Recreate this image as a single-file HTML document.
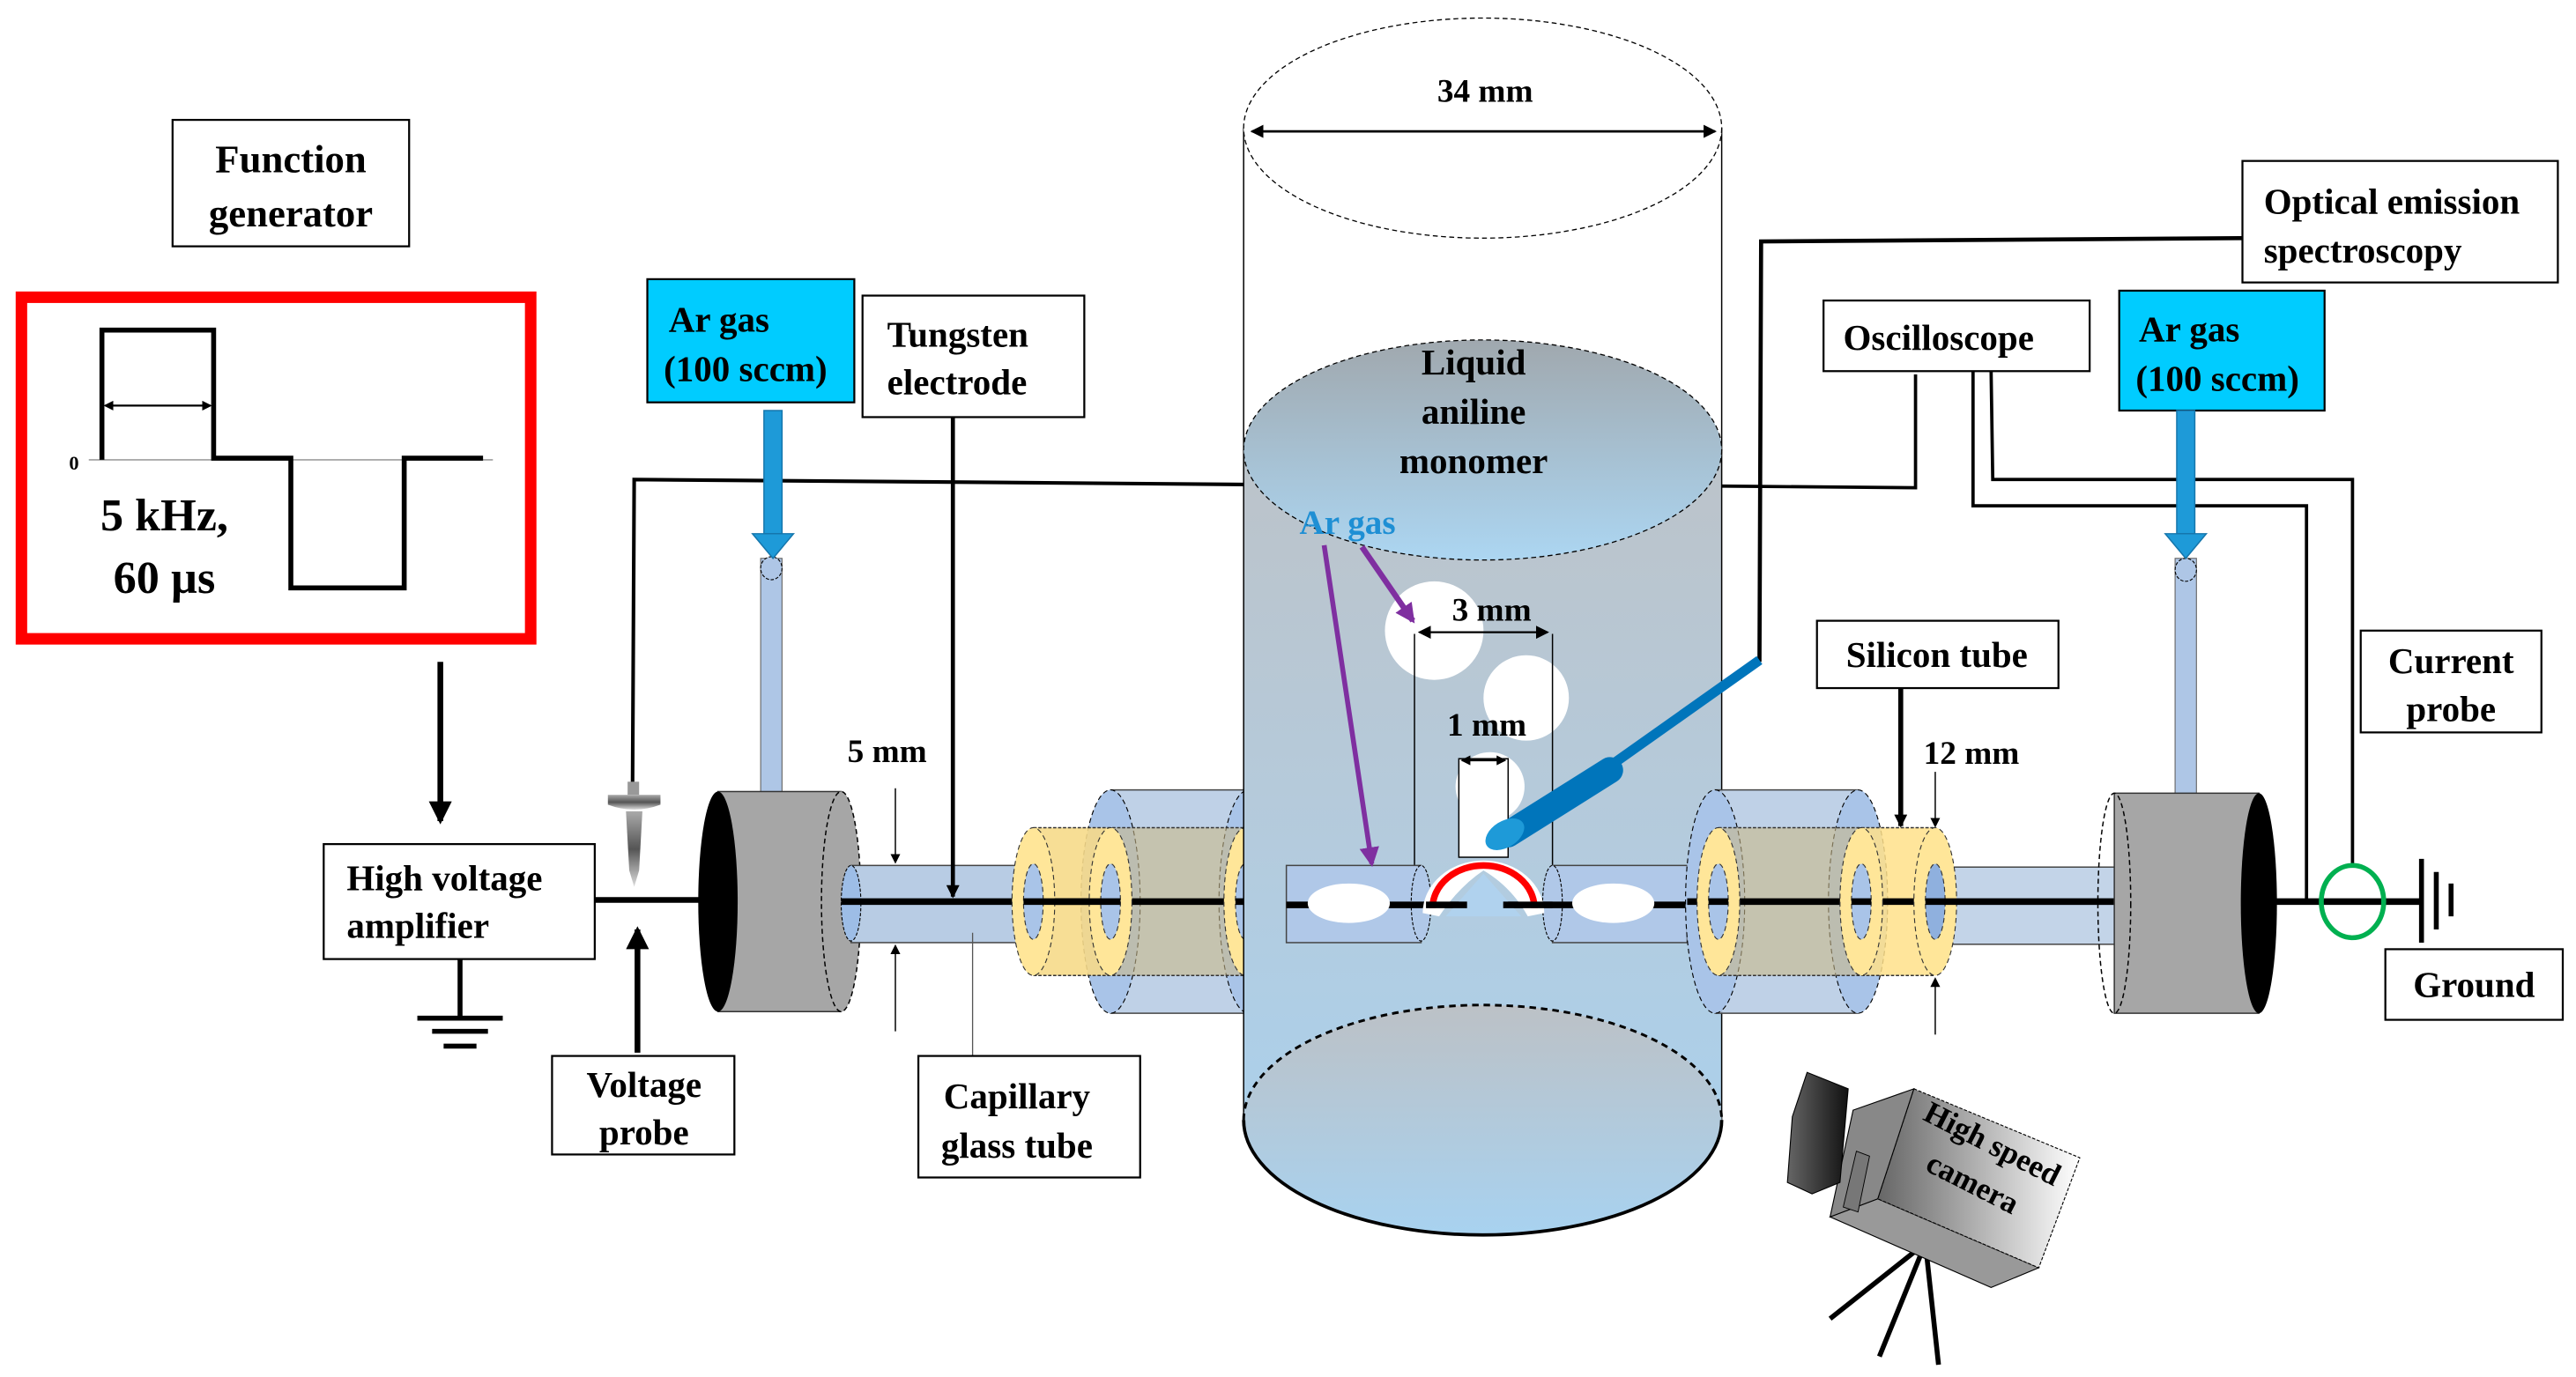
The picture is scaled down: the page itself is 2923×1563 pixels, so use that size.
<!DOCTYPE html>
<html><head><meta charset="utf-8"><style>
html,body{margin:0;padding:0;background:#fff}
svg{display:block}
text{font-family:"Liberation Serif",serif;font-weight:bold;fill:#000}
</style></head><body>
<svg width="2923" height="1563" viewBox="0 0 1568 838.5" xmlns="http://www.w3.org/2000/svg">
<defs>
<linearGradient id="liq" x1="0" y1="0" x2="0" y2="1">
<stop offset="0" stop-color="#bcc3c9"/><stop offset="0.5" stop-color="#b4cbdd"/><stop offset="1" stop-color="#a8d2f0"/></linearGradient>
<linearGradient id="top" x1="0" y1="0" x2="0" y2="1">
<stop offset="0" stop-color="#a0a8ae"/><stop offset="1" stop-color="#acd6f2"/></linearGradient>
<linearGradient id="bot" x1="0" y1="0" x2="0" y2="1">
<stop offset="0" stop-color="#bcc1c6"/><stop offset="1" stop-color="#a8d2f0"/></linearGradient>
<linearGradient id="probe" x1="0" y1="0" x2="0" y2="1">
<stop offset="0" stop-color="#aaa"/><stop offset="0.5" stop-color="#555"/><stop offset="1" stop-color="#ddd"/></linearGradient>
<linearGradient id="cam" x1="0" y1="0" x2="1" y2="0">
<stop offset="0" stop-color="#666"/><stop offset="1" stop-color="#fff"/></linearGradient>
<linearGradient id="lens" x1="0" y1="0" x2="1" y2="0">
<stop offset="0" stop-color="#666"/><stop offset="1" stop-color="#111"/></linearGradient>
<marker id="ah" markerWidth="8" markerHeight="8" refX="7" refY="4" orient="auto-start-reverse" markerUnits="userSpaceOnUse"><path d="M0,0 L8,4 L0,8 z" fill="#000"/></marker>
<marker id="ahs" markerWidth="6" markerHeight="6" refX="5" refY="3" orient="auto-start-reverse" markerUnits="userSpaceOnUse"><path d="M0,0 L6,3 L0,6 z" fill="#000"/></marker>
<marker id="ahl" markerWidth="14" markerHeight="14" refX="12" refY="7" orient="auto" markerUnits="userSpaceOnUse"><path d="M0,0 L14,7 L0,14 z" fill="#000"/></marker>
<marker id="ahp" markerWidth="12" markerHeight="12" refX="10" refY="6" orient="auto" markerUnits="userSpaceOnUse"><path d="M0,0 L12,6 L0,12 z" fill="#7f2fa0"/></marker>
</defs>

<!-- Function generator -->
<rect x="105" y="73" width="144" height="77" fill="#fff" stroke="#000" stroke-width="1.2"/>
<text x="177" y="105" font-size="24" text-anchor="middle">Function</text>
<text x="177" y="138" font-size="24" text-anchor="middle">generator</text>
<rect x="13" y="181" width="310" height="208" fill="none" stroke="#ff0000" stroke-width="7"/>
<line x1="54" y1="280" x2="300" y2="280" stroke="#aaa" stroke-width="1"/>
<polyline points="62,280 62,201 130,201 130,279 177,279 177,358 246,358 246,279 294,279" fill="none" stroke="#000" stroke-width="3"/>
<line x1="64" y1="247" x2="128" y2="247" stroke="#000" stroke-width="1.2" marker-start="url(#ahs)" marker-end="url(#ahs)"/>
<text x="42" y="286" font-size="12">0</text>
<text x="100" y="323" font-size="28" text-anchor="middle">5 kHz,</text>
<text x="100" y="361" font-size="28" text-anchor="middle">60 µs</text>
<line x1="268" y1="403" x2="268" y2="500" stroke="#000" stroke-width="3.5" marker-end="url(#ahl)"/>

<!-- HV amplifier -->
<rect x="197" y="514" width="165" height="70" fill="#fff" stroke="#000" stroke-width="1.2"/>
<text x="211" y="542" font-size="22">High voltage</text>
<text x="211" y="571" font-size="22">amplifier</text>
<line x1="280" y1="584" x2="280" y2="620" stroke="#000" stroke-width="3"/>
<line x1="254" y1="620" x2="306" y2="620" stroke="#000" stroke-width="3"/>
<line x1="263" y1="628" x2="297" y2="628" stroke="#000" stroke-width="3"/>
<line x1="270" y1="637" x2="290" y2="637" stroke="#000" stroke-width="3"/>
<line x1="362" y1="548" x2="436" y2="548" stroke="#000" stroke-width="3.5"/>

<!-- voltage probe -->
<polyline points="385,480 386,292 757,295" fill="none" stroke="#000" stroke-width="2.2"/>
<rect x="382" y="476" width="7" height="8" fill="#999"/>
<path d="M370,484 H402 V490 Q386,496 370,490 Z" fill="url(#probe)"/>
<path d="M381,494 H391 L389,530 L386,540 L383,530 Z" fill="url(#probe)"/>
<line x1="388" y1="641" x2="388" y2="566" stroke="#000" stroke-width="3.5" marker-end="url(#ahl)"/>
<rect x="336" y="643" width="111" height="60" fill="#fff" stroke="#000" stroke-width="1.2"/>
<text x="392" y="668" font-size="22" text-anchor="middle">Voltage</text>
<text x="392" y="697" font-size="22" text-anchor="middle">probe</text>

<!-- left Ar gas -->
<rect x="394" y="170" width="126" height="75" fill="#00ccff" stroke="#000" stroke-width="1.2"/>
<text x="407" y="202" font-size="22">Ar gas</text>
<text x="404" y="232" font-size="22">(100 sccm)</text>
<rect x="463" y="340" width="13" height="145" fill="#aec6e6" stroke="#666" stroke-width="0.6"/>
<ellipse cx="469.5" cy="346" rx="6.5" ry="7" fill="#aec6e6" stroke="#000" stroke-width="0.6" stroke-dasharray="2,1"/>
<rect x="465" y="250" width="11" height="75" fill="#1e9ad8" stroke="#1576ac" stroke-width="0.8"/>
<path d="M458,325 H483 L470.5,340 Z" fill="#1e9ad8" stroke="#1576ac" stroke-width="0.8"/>

<!-- Tungsten electrode -->
<rect x="525" y="180" width="135" height="74" fill="#fff" stroke="#000" stroke-width="1.2"/>
<text x="540" y="211" font-size="22">Tungsten</text>
<text x="540" y="240" font-size="22">electrode</text>

<!-- left gray cylinder -->
<rect x="437" y="482" width="75" height="134" fill="#a6a6a6" stroke="#333" stroke-width="0.8"/>
<ellipse cx="512" cy="549" rx="12" ry="67" fill="#a6a6a6" stroke="#000" stroke-width="0.8" stroke-dasharray="3,2"/>
<ellipse cx="437" cy="549" rx="12" ry="67" fill="#000"/>

<!-- left capillary -->
<rect x="518" y="527" width="111" height="47" fill="#b8cce4" stroke="#444" stroke-width="0.8"/>
<ellipse cx="518" cy="550" rx="6" ry="23" fill="#9dbde6" stroke="#000" stroke-width="0.6" stroke-dasharray="2,1"/>
<line x1="512" y1="549" x2="865" y2="549" stroke="#000" stroke-width="4"/>
<rect x="676" y="481" width="84" height="136" fill="#b8cce4" fill-opacity="0.9" stroke="#444" stroke-width="0.8"/>
<ellipse cx="676" cy="549" rx="18" ry="68" fill="#a9c4e8" stroke="#000" stroke-width="0.6" stroke-dasharray="3,2"/>
<ellipse cx="760" cy="549" rx="18" ry="68" fill="#a9c4e8" stroke="#000" stroke-width="0.6" stroke-dasharray="3,2"/>
<rect x="629" y="504" width="129" height="90" fill="#c9b98a" fill-opacity="0.6"/>
<rect x="629" y="504" width="47" height="90" fill="#ffe08a" fill-opacity="0.75"/>
<line x1="629" y1="504" x2="758" y2="504" stroke="#333" stroke-width="0.8" stroke-dasharray="2,1"/>
<line x1="629" y1="594" x2="758" y2="594" stroke="#333" stroke-width="0.8" stroke-dasharray="2,1"/>
<line x1="629" y1="549" x2="758" y2="549" stroke="#000" stroke-width="4"/>
<g stroke="#333" stroke-width="0.6" stroke-dasharray="3,2">
<ellipse cx="629" cy="549" rx="13" ry="45" fill="#ffe699"/>
<ellipse cx="629" cy="549" rx="6" ry="23" fill="#a9c4e8"/>
<ellipse cx="676" cy="549" rx="13" ry="45" fill="#ffe699"/>
<ellipse cx="676" cy="549" rx="6" ry="23" fill="#a9c4e8"/>
<ellipse cx="758" cy="549" rx="13" ry="45" fill="#ffe699"/>
<ellipse cx="758" cy="549" rx="6" ry="23" fill="#a9c4e8"/>
</g>
<line x1="623" y1="549" x2="682" y2="549" stroke="#000" stroke-width="4"/>
<line x1="752" y1="549" x2="764" y2="549" stroke="#000" stroke-width="4"/>

<!-- Main cylinder -->
<rect x="757" y="78" width="291" height="196" fill="#fff" stroke="#000" stroke-width="0.8"/>
<ellipse cx="902.5" cy="78" rx="145.5" ry="67" fill="#fff" stroke="#000" stroke-width="0.7" stroke-dasharray="3,2"/>
<path d="M757,274 V682 A145.5,70 0 0 0 1048,682 V274 Z" fill="url(#liq)" stroke="#000" stroke-width="0.8"/>
<path d="M757,682 A145.5,70 0 0 1 1048,682 A145.5,70 0 0 1 757,682 Z" fill="url(#bot)"/>
<path d="M757,682 A145.5,70 0 0 1 1048,682" fill="none" stroke="#000" stroke-width="1.6" stroke-dasharray="4,3"/>
<path d="M757,682 A145.5,70 0 0 0 1048,682" fill="none" stroke="#000" stroke-width="2"/>
<ellipse cx="902.5" cy="274" rx="145.5" ry="67" fill="url(#top)" stroke="#000" stroke-width="0.7" stroke-dasharray="3,2"/>
<line x1="762" y1="80" x2="1044" y2="80" stroke="#000" stroke-width="1.5" marker-start="url(#ah)" marker-end="url(#ah)"/>
<text x="904" y="62" font-size="20" text-anchor="middle">34 mm</text>
<text x="897" y="228" font-size="22" text-anchor="middle">Liquid</text>
<text x="897" y="258" font-size="22" text-anchor="middle">aniline</text>
<text x="897" y="288" font-size="22" text-anchor="middle">monomer</text>

<polyline points="1048,296 1166,297 1166,228" fill="none" stroke="#000" stroke-width="2"/>

<!-- bubbles -->
<circle cx="873" cy="384" r="30" fill="#fff"/>
<circle cx="929" cy="425" r="26" fill="#fff"/>
<circle cx="907" cy="479" r="21" fill="#fff"/>
<line x1="861" y1="386" x2="861" y2="527" stroke="#000" stroke-width="0.8"/>
<line x1="945" y1="386" x2="945" y2="527" stroke="#000" stroke-width="0.8"/>
<line x1="864" y1="385" x2="942" y2="385" stroke="#000" stroke-width="1.2" marker-start="url(#ah)" marker-end="url(#ah)"/>
<text x="908" y="378" font-size="20" text-anchor="middle">3 mm</text>
<rect x="888" y="462" width="30" height="60" fill="#fff" stroke="#000" stroke-width="0.8"/>
<line x1="890" y1="463" x2="916" y2="463" stroke="#000" stroke-width="1.2" marker-start="url(#ahs)" marker-end="url(#ahs)"/>
<text x="905" y="448" font-size="20" text-anchor="middle">1 mm</text>

<!-- inner glass tubes -->
<rect x="783" y="527" width="82" height="47" fill="#b0c8e8" stroke="#444" stroke-width="0.8"/>
<ellipse cx="865" cy="550" rx="6" ry="23" fill="#b0c8e8" stroke="#000" stroke-width="0.6" stroke-dasharray="2,1"/>
<rect x="945" y="527" width="82" height="47" fill="#b0c8e8" stroke="#444" stroke-width="0.8"/>
<ellipse cx="945" cy="550" rx="6" ry="23" fill="#b0c8e8" stroke="#000" stroke-width="0.6" stroke-dasharray="2,1"/>
<line x1="783" y1="551" x2="896" y2="551" stroke="#000" stroke-width="4"/>
<line x1="915" y1="551" x2="1027" y2="551" stroke="#000" stroke-width="4"/>
<ellipse cx="821" cy="550" rx="25" ry="12" fill="#fff"/>
<ellipse cx="982" cy="550" rx="25" ry="12" fill="#fff"/>
<path d="M866,556 A37,32 0 0 1 940,556 L930,558 Q920,540 903,530 Q888,540 876,558 Z" fill="#fff"/>
<path d="M872,553 A31,26 0 0 1 934,553" fill="none" stroke="#ff0000" stroke-width="4"/>
<path d="M880,558 L903,532 L926,558 Z" fill="#b0d2ee"/>
<line x1="868" y1="551" x2="893" y2="551" stroke="#000" stroke-width="4"/>
<line x1="915" y1="551" x2="945" y2="551" stroke="#000" stroke-width="4"/>

<text x="791" y="325" font-size="21" style="fill:#1e8fd4;font-weight:bold">Ar gas</text>
<line x1="806" y1="332" x2="835" y2="526" stroke="#7f2fa0" stroke-width="3" marker-end="url(#ahp)"/>
<line x1="829" y1="333" x2="860" y2="378" stroke="#7f2fa0" stroke-width="3.5" marker-end="url(#ahp)"/>

<!-- OES probe -->
<polyline points="1071,403 1072,147 1365,145" fill="none" stroke="#000" stroke-width="2.5"/>
<line x1="1071" y1="402" x2="975" y2="470" stroke="#0075bb" stroke-width="6"/>
<line x1="980" y1="469" x2="918" y2="508" stroke="#0075bb" stroke-width="16" stroke-linecap="round"/>
<ellipse cx="916" cy="508" rx="13" ry="8" transform="rotate(-32 916 508)" fill="#1e9ad8"/>
<rect x="1365" y="98" width="192" height="74" fill="#fff" stroke="#000" stroke-width="1.2"/>
<text x="1378" y="130" font-size="22">Optical emission</text>
<text x="1378" y="160" font-size="22">spectroscopy</text>

<!-- Oscilloscope -->
<rect x="1110" y="183" width="162" height="43" fill="#fff" stroke="#000" stroke-width="1.2"/>
<text x="1122" y="213" font-size="22">Oscilloscope</text>
<polyline points="1201,226 1201,308 1404,308 1404,549" fill="none" stroke="#000" stroke-width="2"/>
<polyline points="1212,226 1213,292 1432,292 1432,528" fill="none" stroke="#000" stroke-width="2"/>

<!-- right Ar gas -->
<rect x="1290" y="177" width="125" height="73" fill="#00ccff" stroke="#000" stroke-width="1.2"/>
<text x="1302" y="208" font-size="22">Ar gas</text>
<text x="1300" y="238" font-size="22">(100 sccm)</text>
<rect x="1324" y="340" width="13" height="145" fill="#aec6e6" stroke="#666" stroke-width="0.6"/>
<ellipse cx="1330.5" cy="347" rx="6.5" ry="7" fill="#aec6e6" stroke="#000" stroke-width="0.6" stroke-dasharray="2,1"/>
<rect x="1325" y="250" width="11" height="75" fill="#1e9ad8" stroke="#1576ac" stroke-width="0.8"/>
<path d="M1318,325 H1343 L1330.5,340 Z" fill="#1e9ad8" stroke="#1576ac" stroke-width="0.8"/>

<!-- right big blue cylinder -->
<rect x="1044" y="481" width="87" height="136" fill="#b8cce4" fill-opacity="0.9" stroke="#444" stroke-width="0.8"/>
<ellipse cx="1044" cy="549" rx="18" ry="68" fill="#a9c4e8" stroke="#000" stroke-width="0.6" stroke-dasharray="3,2"/>
<ellipse cx="1131" cy="549" rx="18" ry="68" fill="#a9c4e8" stroke="#000" stroke-width="0.6" stroke-dasharray="3,2"/>
<rect x="1046" y="504" width="87" height="90" fill="#c9b98a" fill-opacity="0.6"/>
<rect x="1133" y="504" width="45" height="90" fill="#ffe08a" fill-opacity="0.85"/>
<line x1="1046" y1="504" x2="1178" y2="504" stroke="#333" stroke-width="0.8" stroke-dasharray="2,1"/>
<line x1="1046" y1="594" x2="1178" y2="594" stroke="#333" stroke-width="0.8" stroke-dasharray="2,1"/>
<line x1="1027" y1="549" x2="1294" y2="549" stroke="#000" stroke-width="4"/>
<rect x="1178" y="528" width="116" height="47" fill="#b8cce4" fill-opacity="0.85" stroke="#444" stroke-width="0.8"/>
<g stroke="#333" stroke-width="0.6" stroke-dasharray="3,2">
<ellipse cx="1046" cy="549" rx="13" ry="45" fill="#ffe699"/>
<ellipse cx="1046" cy="549" rx="6" ry="23" fill="#a9c4e8"/>
<ellipse cx="1133" cy="549" rx="13" ry="45" fill="#ffe699"/>
<ellipse cx="1133" cy="549" rx="6" ry="23" fill="#a9c4e8"/>
<ellipse cx="1178" cy="549" rx="13" ry="45" fill="#ffe699"/>
<ellipse cx="1178" cy="549" rx="6" ry="23" fill="#8fb0de"/>
<ellipse cx="1293" cy="551" rx="6" ry="23" fill="#8fb0de"/>
</g>
<line x1="1040" y1="549" x2="1052" y2="549" stroke="#000" stroke-width="4"/>
<line x1="1127" y1="549" x2="1139" y2="549" stroke="#000" stroke-width="4"/>
<line x1="1172" y1="549" x2="1296" y2="549" stroke="#000" stroke-width="4"/>

<!-- right gray cylinder -->
<rect x="1287" y="483" width="88" height="134" fill="#a6a6a6" stroke="#333" stroke-width="0.8"/>
<ellipse cx="1287" cy="550" rx="10" ry="67" fill="none" stroke="#000" stroke-width="0.8" stroke-dasharray="3,2"/>
<ellipse cx="1375" cy="550" rx="11" ry="67" fill="#000"/>
<line x1="1385" y1="549" x2="1474" y2="549" stroke="#000" stroke-width="4"/>
<ellipse cx="1432" cy="549" rx="19" ry="22" fill="none" stroke="#00b050" stroke-width="3"/>
<line x1="1474" y1="523" x2="1474" y2="574" stroke="#000" stroke-width="3"/>
<line x1="1483" y1="531" x2="1483" y2="566" stroke="#000" stroke-width="3"/>
<line x1="1492" y1="538" x2="1492" y2="558" stroke="#000" stroke-width="3"/>
<rect x="1452" y="578" width="108" height="43" fill="#fff" stroke="#000" stroke-width="1.2"/>
<text x="1506" y="607" font-size="22" text-anchor="middle">Ground</text>
<rect x="1437" y="384" width="110" height="62" fill="#fff" stroke="#000" stroke-width="1.2"/>
<text x="1492" y="410" font-size="22" text-anchor="middle">Current</text>
<text x="1492" y="439" font-size="22" text-anchor="middle">probe</text>

<!-- silicon tube -->
<rect x="1106" y="378" width="147" height="41" fill="#fff" stroke="#000" stroke-width="1.2"/>
<text x="1179" y="406" font-size="22" text-anchor="middle">Silicon tube</text>
<line x1="1157" y1="419" x2="1157" y2="503" stroke="#000" stroke-width="3" marker-end="url(#ah)"/>
<text x="1200" y="465" font-size="20" text-anchor="middle">12 mm</text>
<line x1="1178" y1="470" x2="1178" y2="503" stroke="#000" stroke-width="0.8" marker-end="url(#ahs)"/>
<line x1="1178" y1="630" x2="1178" y2="596" stroke="#000" stroke-width="0.8" marker-end="url(#ahs)"/>

<!-- 5 mm -->
<text x="540" y="464" font-size="20" text-anchor="middle">5 mm</text>
<line x1="545" y1="480" x2="545" y2="525" stroke="#000" stroke-width="0.8" marker-end="url(#ahs)"/>
<line x1="545" y1="628" x2="545" y2="576" stroke="#000" stroke-width="0.8" marker-end="url(#ahs)"/>
<line x1="580" y1="254" x2="580" y2="546" stroke="#000" stroke-width="2.5" marker-end="url(#ah)"/>
<line x1="592" y1="643" x2="592" y2="568" stroke="#555" stroke-width="0.7"/>
<rect x="559" y="643" width="135" height="74" fill="#fff" stroke="#000" stroke-width="1.2"/>
<text x="619" y="675" font-size="22" text-anchor="middle">Capillary</text>
<text x="619" y="705" font-size="22" text-anchor="middle">glass tube</text>

<!-- camera -->
<line x1="1172" y1="757" x2="1114" y2="803" stroke="#000" stroke-width="3"/>
<line x1="1172" y1="757" x2="1144" y2="826" stroke="#000" stroke-width="3"/>
<line x1="1172" y1="757" x2="1180" y2="831" stroke="#000" stroke-width="3"/>
<polygon points="1143,730 1241,772 1212,784 1114,741" fill="#999" stroke="#000" stroke-width="0.6"/>
<polygon points="1165,663 1266,705 1241,772 1143,730" fill="url(#cam)" stroke="#000" stroke-width="0.6" stroke-dasharray="2,1"/>
<polygon points="1128,676 1165,663 1143,730 1114,741" fill="#888" stroke="#000" stroke-width="0.6"/>
<polygon points="1130,701 1138,704 1131,738 1122,735" fill="#777" stroke="#000" stroke-width="0.5"/>
<polygon points="1100,653 1125,663 1120,720 1103,727 1088,720 1091,680" fill="url(#lens)" stroke="#000" stroke-width="0.6"/>
<text transform="translate(1210,702) rotate(27)" font-size="19" text-anchor="middle">High speed</text>
<text transform="translate(1198,726) rotate(27)" font-size="19" text-anchor="middle">camera</text>
</svg>
</body></html>
